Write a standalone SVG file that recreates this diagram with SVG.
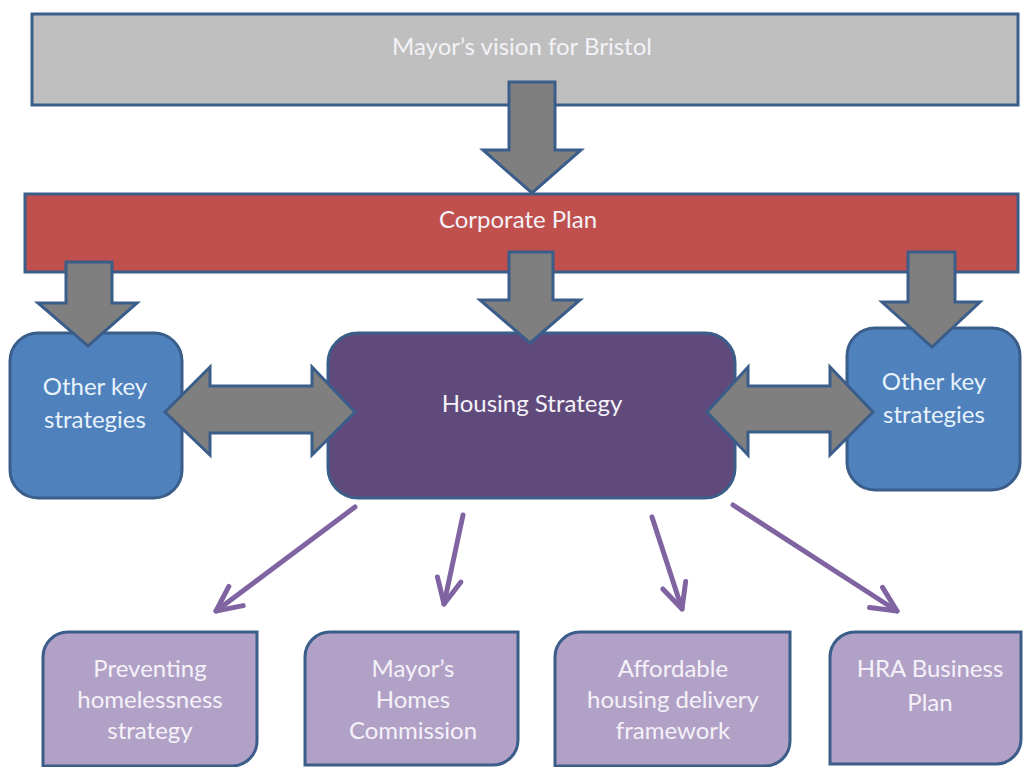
<svg xmlns="http://www.w3.org/2000/svg" width="1024" height="767" viewBox="0 0 1024 767">
<defs>
<style>
.box{stroke:#3b5d8a;stroke-width:3}
.blk{fill:#7f7f7f;stroke:#3b5d8a;stroke-width:3;stroke-linejoin:miter}
.thin{fill:none;stroke:#8064a2;stroke-width:5;stroke-linecap:round}
.t{font-family:Lato,"Liberation Sans",sans-serif;font-size:24px;fill:#f4f2f8;text-anchor:middle}
.tb{font-family:Lato,"Liberation Sans",sans-serif;font-size:24px;fill:#e8f2fb;text-anchor:middle}
</style>
<marker id="chev" markerUnits="userSpaceOnUse" markerWidth="40" markerHeight="40" refX="0" refY="0" viewBox="-30 -20 34 40" orient="auto" overflow="visible">
<path d="M-25,-12 L0,0 L-25,12" fill="none" stroke="#8064a2" stroke-width="5" stroke-linecap="round" stroke-linejoin="round"/>
</marker>
</defs>
<rect width="1024" height="767" fill="#ffffff"/>

<g id="mayor-vision">
<rect class="box" x="32" y="14" width="986" height="91" fill="#bfbfbf"/>
<text class="t" x="522" y="55">Mayor’s vision for Bristol</text>
</g>

<g id="corporate-plan">
<rect class="box" x="25" y="194" width="993" height="78" fill="#c0504d"/>
<text class="t" x="518" y="228">Corporate Plan</text>
</g>

<g id="other-left">
<rect class="box" x="10" y="333" width="172" height="165" rx="28" fill="#4f81bd"/>
<text class="tb" x="95" y="395">Other key</text>
<text class="tb" x="95" y="428">strategies</text>
</g>

<g id="housing-strategy">
<rect class="box" x="328" y="333" width="407" height="165" rx="30" fill="#604a7b"/>
<text class="t" x="532" y="412">Housing Strategy</text>
</g>

<g id="other-right">
<rect class="box" x="847" y="328" width="173" height="162" rx="28" fill="#4f81bd"/>
<text class="tb" x="934" y="390">Other key</text>
<text class="tb" x="934" y="423">strategies</text>
</g>

<g id="preventing-homelessness">
<path class="box" d="M68,632 H257 V741 A25,25 0 0 1 232,766 H43 V657 A25,25 0 0 1 68,632 Z" fill="#b2a1c7"/>
<text class="t" x="150" y="677">Preventing</text>
<text class="t" x="150" y="708">homelessness</text>
<text class="t" x="150" y="739">strategy</text>
</g>

<g id="homes-commission">
<path class="box" d="M330,632 H518 V740 A25,25 0 0 1 493,765 H305 V657 A25,25 0 0 1 330,632 Z" fill="#b2a1c7"/>
<text class="t" x="413" y="677">Mayor’s</text>
<text class="t" x="413" y="708">Homes</text>
<text class="t" x="413" y="739">Commission</text>
</g>

<g id="affordable-housing">
<path class="box" d="M580,632 H790 V741 A25,25 0 0 1 765,766 H555 V657 A25,25 0 0 1 580,632 Z" fill="#b2a1c7"/>
<text class="t" x="673" y="677">Affordable</text>
<text class="t" x="673" y="708">housing delivery</text>
<text class="t" x="673" y="739">framework</text>
</g>

<g id="hra-business-plan">
<path class="box" d="M855,632 H1021 V739 A25,25 0 0 1 996,764 H830 V657 A25,25 0 0 1 855,632 Z" fill="#b2a1c7"/>
<text class="t" x="930" y="677">HRA Business</text>
<text class="t" x="930" y="711">Plan</text>
</g>

<g id="connectors">
<polygon class="blk" points="509,82 555,82 555,150 581,150 532,193 483,150 509,150"/>
<polygon class="blk" points="66,262 112,262 112,303 137,303 88,346 38,303 66,303"/>
<polygon class="blk" points="509,252 553,252 553,300 580,300 530,343 480,300 509,300"/>
<polygon class="blk" points="908,252 955,252 955,302 980,302 932,347 882,302 908,302"/>
<polygon class="blk" points="165,412 210,367 210,386 312,386 312,367 355,412 312,455 312,433 210,433 210,455"/>
<polygon class="blk" points="707,412 748,367 748,386 830,386 830,367 873,412 830,455 830,432 748,432 748,455"/>
<line class="thin" x1="355" y1="507" x2="216" y2="611" marker-end="url(#chev)"/>
<line class="thin" x1="463" y1="515" x2="444" y2="604" marker-end="url(#chev)"/>
<line class="thin" x1="652" y1="517" x2="682" y2="609" marker-end="url(#chev)"/>
<line class="thin" x1="733" y1="505" x2="897" y2="611" marker-end="url(#chev)"/>
</g>
</svg>
